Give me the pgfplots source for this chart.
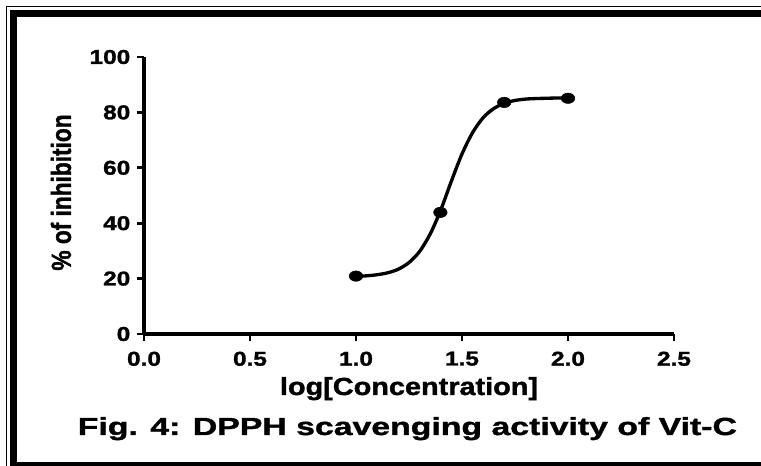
\documentclass[border=0pt]{standalone}
\usepackage{graphicx}
\usepackage{pgfplots}
\pgfplotsset{compat=1.18}
\usepackage{fontspec}
\setmainfont{Liberation Sans}[FakeStretch=1.22, BoldFeatures={FakeBold=1.5}]
\newfontfamily\plainfont{Liberation Sans}[BoldFeatures={FakeBold=1.5}]
\newfontfamily\labelfont{Liberation Sans}[FakeStretch=1.17, BoldFeatures={FakeBold=1.5}]
\newfontfamily\titlefont{Liberation Sans}[FakeStretch=1.37, BoldFeatures={FakeBold=1.5}]
\pgfplotstableread{
x y
1.00 20.8
1.05 21.0
1.10 21.4
1.15 22.1
1.20 23.4
1.25 25.8
1.30 29.8
1.35 36.1
1.40 44.8
1.45 55.2
1.50 65.0
1.55 72.7
1.60 78.1
1.65 81.4
1.70 83.3
1.75 84.3
1.80 84.8
1.85 85.0
1.90 85.1
1.95 85.2
2.00 85.2
}\fitcurve
\pgfplotstableread{
x y
1.000 20.9
1.398 43.9
1.699 83.6
2.000 85.1
}\points
\begin{document}
\begin{tikzpicture}
\useasboundingbox (0pt,0pt) rectangle (570.75pt,349.5pt);
\fill[white] (0pt,0pt) rectangle (570.75pt,349.5pt);
\draw[line width=1pt] (4.9pt,344.6pt) rectangle (600pt,-30pt);
\draw[line width=5.25pt] (10.1pt,339.4pt) rectangle (592pt,0.4pt);
\begin{axis}[
  at={(108pt,99pt)}, anchor=south west,
  scale only axis, width=397.5pt, height=207.75pt,
  xmin=0, xmax=2.5, ymin=0, ymax=100,
  axis x line*=bottom, axis y line*=left,
  axis line style={line width=2.4pt, black},
  xtick={0,0.5,1,1.5,2,2.5},
  xticklabels={0.0,0.5,1.0,1.5,2.0,2.5},
  ytick={0,20,40,60,80,100},
  yticklabels={0,20,40,60,80,100},
  /pgf/number format/assume math mode=true,
  tick align=outside,
  major tick length=5.25pt,
  tick style={line width=2.2pt, black},
  ticklabel style={font=\bfseries\fontsize{15}{18}\selectfont},
  xticklabel style={yshift=-4.5pt},
  yticklabel style={xshift=-1.5pt},
  xlabel={log[Concentration]},
  xlabel style={font=\labelfont\bfseries\fontsize{18.5}{22}\selectfont, at={(axis description cs:0.5,0)}, anchor=base, yshift=-45.75pt},
  ylabel={\plainfont\bfseries\scalebox{1}[1.22]{\% of inhibition}},
  ylabel style={font=\fontsize{17}{20}\selectfont, at={(axis description cs:0,0.5)}, anchor=center, yshift=62.25pt, xshift=2.25pt},
  clip=false,
]
\addplot[line width=2.5pt, smooth, black, no marks] table[x=x,y=y] {\fitcurve};
\addplot[only marks, mark=*, mark size=3.9pt, mark options={xscale=1.3, fill=black, draw=black}] table[x=x,y=y] {\points};
\end{axis}
\node[font=\titlefont\bfseries\fontsize{18.5}{22}\selectfont, anchor=base] at (305.5pt,23.25pt) {Fig. 4: DPPH scavenging activity of Vit-C};
\end{tikzpicture}
\end{document}
